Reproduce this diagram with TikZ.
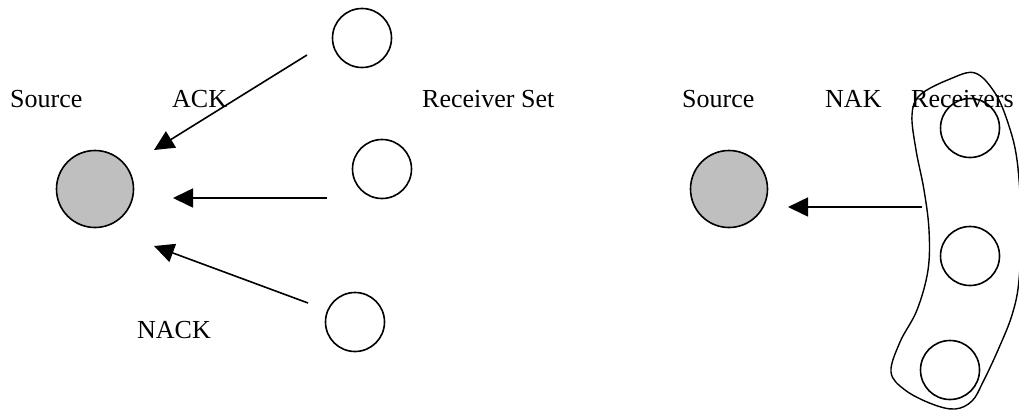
\documentclass[tikz,border=0pt]{standalone}
\usepackage{fontspec}
\setmainfont{Liberation Serif}
\usetikzlibrary{arrows.meta}

\tikzset{
	host/.style={circle,draw,line width=1.6pt,minimum size=59pt,inner sep=0pt},
	src/.style={host,fill=black!25,minimum size=77pt},
	msg/.style={line width=1.6pt,-{Triangle[length=20pt,width=19pt]}},
	lbl/.style={anchor=base west,inner sep=0pt,font=\fontsize{26}{30}\selectfont}
}

\begin{document}
\begin{tikzpicture}[x=1pt,y=-1pt]
	\useasboundingbox (0,0) rectangle (1019,415);
	% ACK / NACK side
	\node[src] (srcA) at (95,189) {};
	\node[host] (recA) at (362,38) {};
	\node[host] (recB) at (382,169) {};
	\node[host] (recC) at (355,322) {};
	\node[lbl] (lsrcA) at (10,107) {Source};
	\node[lbl] (lack) at (172,107) {ACK};
	\node[lbl] (lset) at (422,107) {Receiver Set};
	\node[lbl] (lnack) at (137,338) {NACK};
	\coordinate (ackA) at (307,55);   \coordinate (ackAt) at (154,150);
	\coordinate (ackB) at (327,198);  \coordinate (ackBt) at (173,198);
	\coordinate (nackC) at (308,303); \coordinate (nackCt) at (154,246);
	\draw[msg] (ackA) -- (ackAt);
	\draw[msg] (ackB) -- (ackBt);
	\draw[msg] (nackC) -- (nackCt);
	% NAK side
	\node[src] (srcB) at (729,189) {};
	\node[host] (recD) at (970,128) {};
	\node[host] (recE) at (970,256) {};
	\node[host] (recF) at (950,370) {};
	\node[lbl] (lsrcB) at (682,107) {Source};
	\node[lbl] (lnak) at (825,107) {NAK};
	\node[lbl] (lrec) at (911,107) {Receivers};
	\coordinate (nakD) at (922,207); \coordinate (nakDt) at (788,207);
	\draw[msg] (nakD) -- (nakDt);
	% group outline
	\draw[line width=1.4pt] plot[smooth cycle,tension=0.6] coordinates {
		(975,73) (995,93) (1008,123) (1017,160) (1021,220) (1019,280)
		(1012,315) (998,350) (983,382) (972,401) (955,409) (932,404)
		(905,390) (891,372) (900,342) (917,310) (928,270) (929,230)
		(924,190) (916,150) (912,115) (920,95) (950,79)};
\end{tikzpicture}
\end{document}
